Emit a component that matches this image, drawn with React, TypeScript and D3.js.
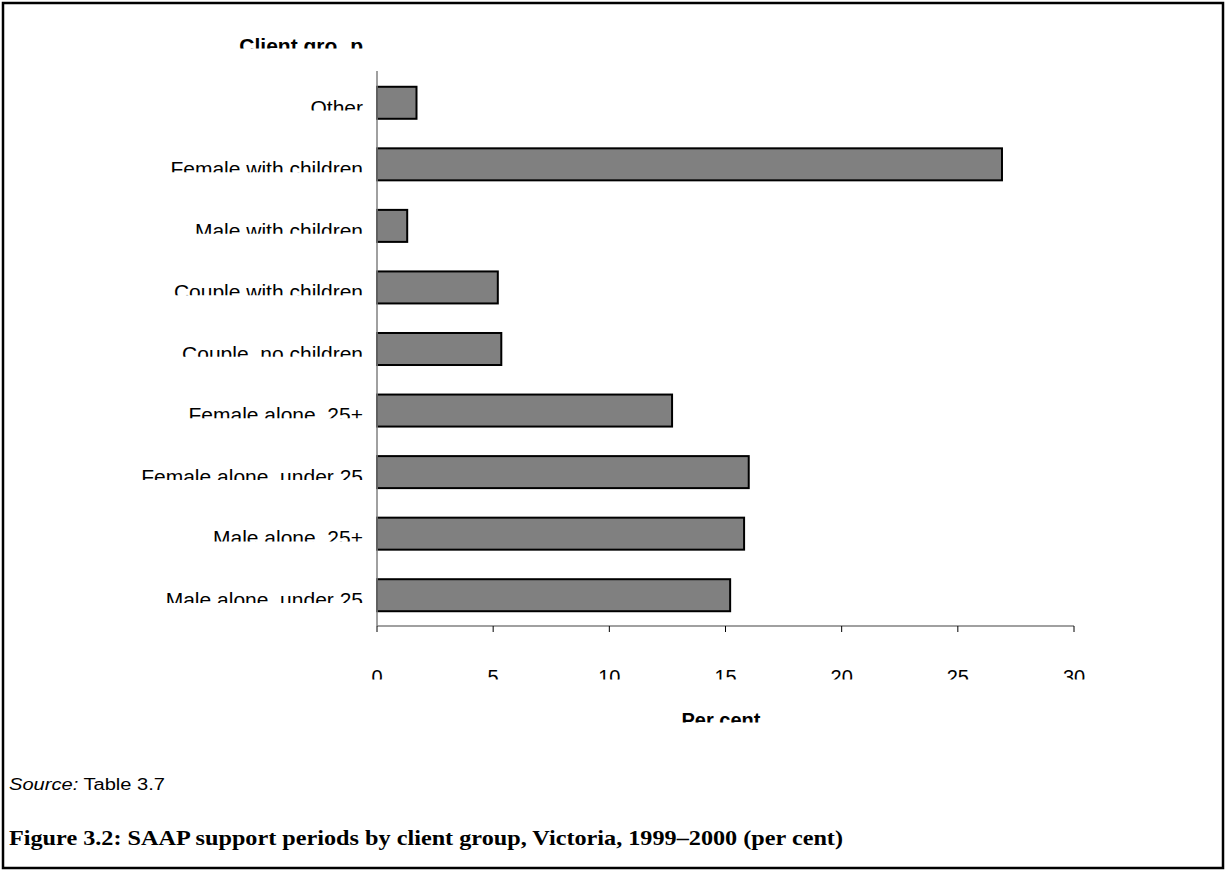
import React from "react";
import * as d3 from "d3";

const categories = [
  "Other",
  "Female with children",
  "Male with children",
  "Couple with children",
  "Couple, no children",
  "Female alone, 25+",
  "Female alone, under 25",
  "Male alone, 25+",
  "Male alone, under 25",
];
const values = [1.7, 26.9, 1.3, 5.2, 5.35, 12.7, 16.0, 15.8, 15.2];
const xTicks = [0, 5, 10, 15, 20, 25, 30];
const xTitle = "Per cent";
const sourceLabel = "Source:";
const sourceText = " Table 3.7";
const caption = "Figure 3.2: SAAP support periods by client group, Victoria, 1999–2000 (per cent)";

const W = 1225;
const H = 870;
const left = 377;
const right = 1074;
const top = 72;
const bottom = 626;

export default function App() {
  const x = d3.scaleLinear().domain([0, 30]).range([left, right]);
  const y = d3.scaleBand<string>().domain(categories).range([top, bottom]).paddingInner(0.48).paddingOuter(0.24);
  const sans = "Arial, 'Liberation Sans', sans-serif";
  const clipped = (id: string, clipY: number) => (
    <clipPath id={id}>
      <rect x={0} y={clipY - 40} width={W} height={40} />
    </clipPath>
  );
  return (
    <svg width={W} height={H} style={{ position: "absolute", left: 0, top: 0, background: "#fff" }}>
      <defs>
        {categories.map((c, i) => {
          const cy = (y(c) as number) + y.bandwidth() / 2;
          return <React.Fragment key={c}>{clipped(`cl${i}`, cy + 7.8)}</React.Fragment>;
        })}
        {clipped("clt", 679.5)}
        {clipped("clyt", 48.5)}
        {clipped("clxt", 722.5)}
      </defs>
      <rect x={3} y={3} width={1220} height={865} fill="#fff" stroke="#000" strokeWidth={2.5} />

      <g clipPath="url(#clyt)">
        <text x={363} y={52.5} textAnchor="end" fontFamily={sans} fontWeight="bold" fontSize={21} fill="#000">
          Client gro<tspan fill="#fff">u</tspan>p
        </text>
      </g>

      {categories.map((c, i) => {
        const cy = (y(c) as number) + y.bandwidth() / 2;
        return (
          <g key={c}>
            <rect
              x={x(0)}
              y={y(c)}
              width={x(values[i]) - x(0)}
              height={y.bandwidth()}
              fill="#808080"
              stroke="#000"
              strokeWidth={2}
            />
            <g clipPath={`url(#cl${i})`}>
              <text x={363} y={cy + 11.8} textAnchor="end" fontFamily={sans} fontSize={21} fill="#000">
                {c}
              </text>
            </g>
          </g>
        );
      })}

      <line x1={left} x2={left} y1={71} y2={bottom} stroke="#808080" strokeWidth={1.5} />
      <line x1={left} x2={right} y1={bottom} y2={bottom} stroke="#808080" strokeWidth={1.5} />
      {xTicks.map((t) => (
        <g key={t}>
          <line x1={x(t)} x2={x(t)} y1={bottom} y2={bottom + 6} stroke="#000" strokeWidth={1} />
          <g clipPath="url(#clt)">
            <text x={x(t)} y={683.5} textAnchor="middle" fontFamily={sans} fontSize={20} fill="#000">
              {t}
            </text>
          </g>
        </g>
      ))}
      <g clipPath="url(#clxt)">
        <text x={721} y={726.5} textAnchor="middle" fontFamily={sans} fontWeight="bold" fontSize={20} fill="#000">
          {xTitle}
        </text>
      </g>

      <text x={9} y={790} fontFamily={sans} fontSize={16} fill="#000" textLength={156} lengthAdjust="spacingAndGlyphs">
        <tspan fontStyle="italic">{sourceLabel}</tspan>
        {sourceText}
      </text>
      <text
        x={9}
        y={845}
        fontFamily="'Liberation Serif', 'Times New Roman', serif"
        fontWeight="bold"
        fontSize={22}
        fill="#000"
        textLength={834}
        lengthAdjust="spacingAndGlyphs"
      >
        {caption}
      </text>
    </svg>
  );
}
